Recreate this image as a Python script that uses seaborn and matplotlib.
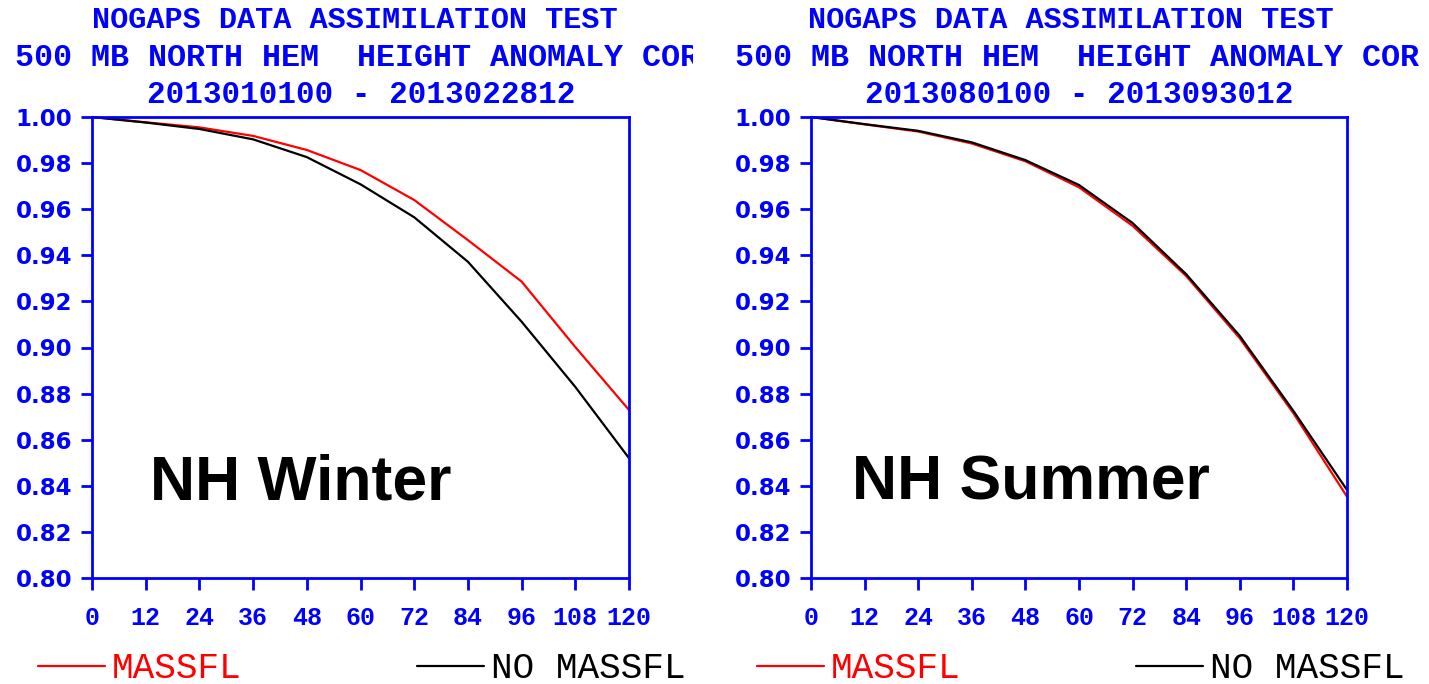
import numpy as np
import pandas as pd
import matplotlib
matplotlib.use("Agg")
import matplotlib.pyplot as plt
import seaborn as sns
from matplotlib.lines import Line2D
from matplotlib.transforms import Bbox, TransformedBbox

# ---------------- data ----------------
lead_hours = [0, 12, 24, 36, 48, 60, 72, 84, 96, 108, 120]
winter_massfl = [1.0, 0.9977, 0.9955, 0.9918, 0.9857, 0.9770, 0.9640, 0.9466, 0.9286, 0.9002, 0.8729]
winter_no_massfl = [1.0, 0.9976, 0.9948, 0.9903, 0.9826, 0.9708, 0.9565, 0.9372, 0.9112, 0.8829, 0.8520]
summer_massfl = [1.0, 0.9968, 0.9937, 0.9885, 0.9808, 0.9695, 0.9528, 0.9310, 0.9040, 0.8715, 0.8353]
summer_no_massfl = [1.0, 0.9969, 0.9940, 0.9890, 0.9813, 0.9705, 0.9540, 0.9318, 0.9050, 0.8725, 0.8382]
series_names = ["MASSFL", "NO MASSFL"]
y_ticks = [0.80, 0.82, 0.84, 0.86, 0.88, 0.90, 0.92, 0.94, 0.96, 0.98, 1.00]
title_line1 = "NOGAPS DATA ASSIMILATION TEST"
title_line2 = "500 MB NORTH HEM  HEIGHT ANOMALY COR"
winter_dates = "2013010100 - 2013022812"
summer_dates = "2013080100 - 2013093012"
panel_labels = ["NH Winter", "NH Summer"]

# ---------------- style ----------------
sns.set_style("white")
plt.rcParams["font.family"] = ["DejaVu Sans"]
BLUE = "#0000ff"
palette = {"MASSFL": "#ff0000", "NO MASSFL": "#000000"}
MONO = "Liberation Mono"

def long_df(m, n):
    return pd.DataFrame({
        "lead": lead_hours * 2,
        "corr": m + n,
        "series": [series_names[0]] * len(lead_hours) + [series_names[1]] * len(lead_hours),
    })

fig = plt.figure(figsize=(14.29, 6.84), dpi=100)
W, H = 1429, 684

panels = [
    dict(x0=92, x1=629, data=long_df(winter_massfl, winter_no_massfl), dates=winter_dates,
         label=panel_labels[0], lx=150, t1x=355, t3x=361, t2x=15, clip=693, leg_x=38),
    dict(x0=811, x1=1347, data=long_df(summer_massfl, summer_no_massfl), dates=summer_dates,
         label=panel_labels[1], lx=852, t1x=1071, t3x=1079, t2x=735, clip=1429, leg_x=757),
]

y_top, y_bot = 117, 578
for p in panels:
    ax = fig.add_axes([p["x0"] / W, 1 - y_bot / H, (p["x1"] - p["x0"]) / W, (y_bot - y_top) / H])
    sns.lineplot(data=p["data"], x="lead", y="corr", hue="series", palette=palette,
                 linewidth=1.6, ax=ax, legend=False, clip_on=False)
    ax.set_xlim(0, 120)
    ax.set_ylim(0.80, 1.00)
    ax.set_xticks(lead_hours)
    ax.set_xticklabels([str(v) for v in lead_hours], family=MONO, fontweight="bold",
                       fontsize=18, color=BLUE)
    ax.set_yticks(y_ticks)
    ax.set_yticklabels([f"{v:.2f}" for v in y_ticks], family="DejaVu Sans", fontweight="bold",
                       fontsize=16.5, color=BLUE)
    ax.set_xlabel("")
    ax.set_ylabel("")
    for s in ax.spines.values():
        s.set_color(BLUE)
        s.set_linewidth(2)
        s.set_visible(True)
    ax.tick_params(axis="x", which="both", direction="out", length=8.5, width=2, color=BLUE,
                   pad=12, bottom=True, top=False)
    ax.tick_params(axis="y", which="both", direction="out", length=8, width=2, color=BLUE,
                   pad=6, left=True, right=False)
    ax.set_facecolor("white")
    ax.text(p["lx"] / W, 1 - 500 / H, p["label"], transform=fig.transFigure,
            family="Liberation Sans", fontweight="bold", fontsize=45, color="black",
            ha="left", va="baseline")

    # titles
    fig.text(p["t1x"] / W, 1 - 20 / H, title_line1, family=MONO, fontweight="bold",
             fontsize=21.8, color=BLUE, ha="center", va="center")
    t2 = fig.text(p["t2x"] / W, 1 - 58 / H, title_line2, family=MONO, fontweight="bold",
                  fontsize=22.9, color=BLUE, ha="left", va="center")
    t2.set_clip_on(True)
    t2.set_clip_box(TransformedBbox(Bbox([[0, 0], [p["clip"] / W, 1]]), fig.transFigure))
    fig.text(p["t3x"] / W, 1 - 95 / H, p["dates"], family=MONO, fontweight="bold",
             fontsize=22.3, color=BLUE, ha="center", va="center")

    # legend
    handles = [Line2D([], [], color=palette[s], linewidth=1.6) for s in series_names]
    leg = ax.legend(handles, series_names, loc="center left",
                    bbox_to_anchor=(p["leg_x"] / W, 1 - 669 / H), bbox_transform=fig.transFigure,
                    ncol=2, frameon=False, prop={"family": MONO, "size": 26},
                    handlelength=1.86, handletextpad=0.19, columnspacing=4.85, borderpad=0,
                    borderaxespad=0)
    for txt, s in zip(leg.get_texts(), series_names):
        txt.set_color(palette[s])

fig.savefig("out.png", dpi=100, facecolor="white")
